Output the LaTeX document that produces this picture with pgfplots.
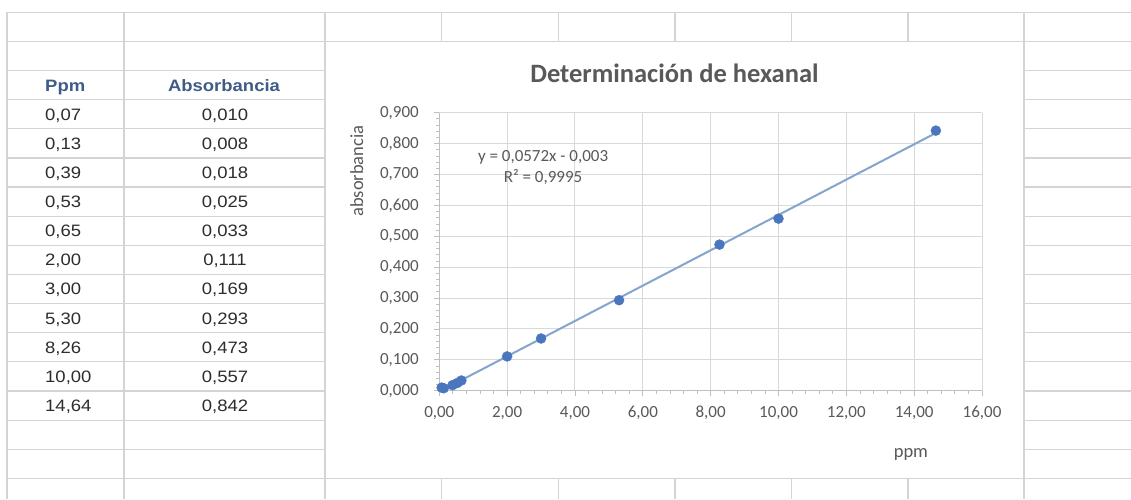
\documentclass[border=0pt]{standalone}
\usepackage{fontspec}
\setmainfont{Carlito}
\newfontfamily\tabfont[FakeStretch=1.12]{Liberation Sans}
\usepackage{pgfplots}
\pgfplotsset{compat=1.18}
\definecolor{cellline}{RGB}{212,212,212}
\definecolor{gridc}{RGB}{217,217,217}
\definecolor{axisc}{RGB}{191,191,191}
\definecolor{labc}{RGB}{89,89,89}
\definecolor{markc}{RGB}{74,118,190}
\definecolor{trendc}{RGB}{132,165,205}
\definecolor{headc}{RGB}{62,92,135}
\definecolor{cellt}{RGB}{45,45,45}
\begin{document}
\begin{tikzpicture}[x=1pt,y=1pt]
\useasboundingbox (0,0) rectangle (1131,499);
\fill[white] (0,0) rectangle (1131,499);
% spreadsheet grid
\foreach \i in {0,...,16} {
  \draw[cellline, line width=1.2pt] (7,{499-12.3-29.13*\i}) -- (1131,{499-12.3-29.13*\i});
}
\foreach \x in {7,124,325,441.7,558.3,675,791.4,908,1024} {
  \draw[cellline, line width=1.2pt] (\x,{499-12.3}) -- (\x,0);
}
% chart area
\fill[white] (326,{499-478.4+0.7}) rectangle (1023.3,{499-41.3-0.7});
% table text
\def\rowy#1{499-12.3-29.13*(#1+0.5)-5.9}
\node[anchor=base west, inner sep=0, text=headc] at (45,{\rowy{2}}) {\tabfont\fontsize{16.5}{18}\selectfont\bfseries Ppm};
\node[anchor=base, inner sep=0, text=headc] at (224,{\rowy{2}}) {\tabfont\fontsize{16.5}{18}\selectfont\bfseries Absorbancia};
\foreach \r/\p/\a in {3/{0,07}/{0,010}, 4/{0,13}/{0,008}, 5/{0,39}/{0,018}, 6/{0,53}/{0,025}, 7/{0,65}/{0,033}, 8/{2,00}/{0,111}, 9/{3,00}/{0,169}, 10/{5,30}/{0,293}, 11/{8,26}/{0,473}, 12/{10,00}/{0,557}, 13/{14,64}/{0,842}} {
  \node[anchor=base west, inner sep=0, text=cellt] at (45,{\rowy{\r}}) {\tabfont\fontsize{16.5}{18}\selectfont \p};
  \node[anchor=base, inner sep=0, text=cellt] at (225,{\rowy{\r}}) {\tabfont\fontsize{16.5}{18}\selectfont \a};
}
% title
\node[text=labc, font=\fontsize{26.5}{30}\selectfont\bfseries] at (674.5,{499-73}) {Determinación de hexanal};
\begin{axis}[
  at={(439.3pt,108.3pt)}, anchor=south west,
  scale only axis, width=542.7pt, height=278pt,
  xmin=0, xmax=16, ymin=0, ymax=0.9,
  xtick distance=2, ytick distance=0.1,
  minor x tick num=4, minor y tick num=4,
  grid=major, major grid style={gridc, line width=1pt},
  axis x line*=bottom, axis y line*=left,
  axis line style={axisc, line width=1pt},
  tick align=outside, major tick length=5pt, minor tick length=3pt,
  every tick/.style={axisc, line width=0.8pt},
  tick label style={font=\fontsize{17}{20}\selectfont, text=labc},
  scaled ticks=false,
  xticklabel style={yshift=-7pt, /pgf/number format/fixed, /pgf/number format/fixed zerofill, /pgf/number format/precision=2, /pgf/number format/use comma, /pgf/number format/assume math mode=true},
  yticklabel style={xshift=-12pt, /pgf/number format/fixed, /pgf/number format/fixed zerofill, /pgf/number format/precision=3, /pgf/number format/use comma, /pgf/number format/assume math mode=true},
  xlabel={ppm},
  xlabel style={at={(axis description cs:0.869,-0.23)}, anchor=center, font=\fontsize{18.5}{20}\selectfont, text=labc},
  ylabel={absorbancia},
  ylabel style={at={(axis description cs:-0.152,0.79)}, anchor=center, rotate=0, font=\fontsize{18.5}{20}\selectfont, text=labc},
  clip=false,
]
\addplot[only marks, mark=*, mark size=5pt, mark options={fill=markc, draw=markc}] coordinates {
  (0.07,0.010) (0.13,0.008) (0.39,0.018) (0.53,0.025) (0.65,0.033)
  (2.00,0.111) (3.00,0.169) (5.30,0.293) (8.26,0.473) (10.00,0.557) (14.64,0.842)};
\addplot[trendc, line width=2pt] coordinates {(0.07,0.001) (14.64,0.8344)};
\node[font=\fontsize{17}{21}\selectfont, text=labc, align=center] at (axis cs:3.06,0.723) {y = 0,0572x - 0,003\\R² = 0,9995};
\end{axis}
\end{tikzpicture}
\end{document}
